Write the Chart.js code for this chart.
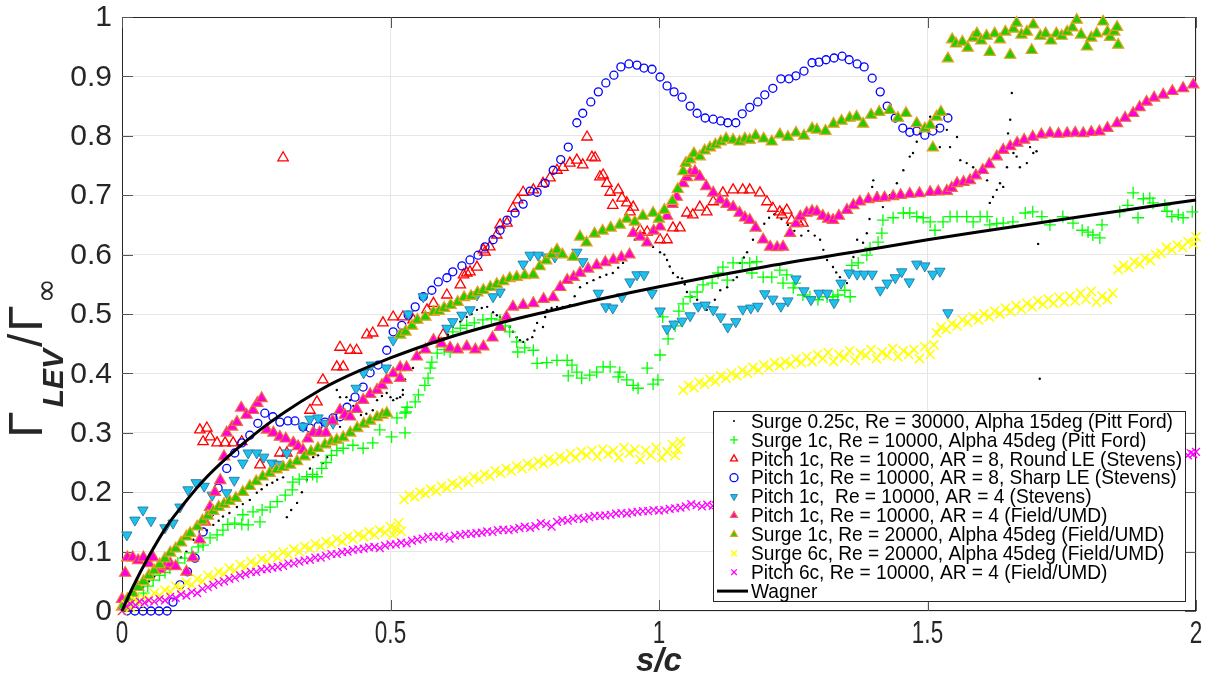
<!DOCTYPE html>
<html>
<head>
<meta charset="utf-8">
<script src="https://cdn.jsdelivr.net/npm/chart.js@4.4.1/dist/chart.umd.min.js"></script>
<style>
  html, body { margin: 0; padding: 0; background: #ffffff; }
  #wrap { width: 1206px; height: 685px; }
</style>
</head>
<body>
<div id="wrap"><canvas id="chart" width="1206" height="685"></canvas></div>
<script>
// Axis ticks
const xTickValues = [0, 0.5, 1, 1.5, 2];
const xTickLabels = ['0', '0.5', '1', '1.5', '2'];
const yTickValues = [0, 0.1, 0.2, 0.3, 0.4, 0.5, 0.6, 0.7, 0.8, 0.9, 1];
const yTickLabels = ['0', '0.1', '0.2', '0.3', '0.4', '0.5', '0.6', '0.7', '0.8', '0.9', '1'];

const seriesNames = [
  'Surge 0.25c, Re = 30000, Alpha 15deg (Pitt Ford)',
  'Surge 1c, Re = 10000, Alpha 45deg (Pitt Ford)',
  'Pitch 1c, Re = 10000, AR = 8, Round LE (Stevens)',
  'Pitch 1c, Re = 10000, AR = 8, Sharp LE (Stevens)',
  'Pitch 1c,  Re = 10000, AR = 4 (Stevens)',
  'Pitch 1c, Re = 10000, AR = 4 (Field/UMD)',
  'Surge 1c, Re = 20000, Alpha 45deg (Field/UMD)',
  'Surge 6c, Re = 20000, Alpha 45deg (Field/UMD)',
  'Pitch 6c, Re = 10000, AR = 4 (Field/UMD)',
  'Wagner'
];

// [s/c, Gamma_LEV / Gamma_inf]
const surge025PittFord = [
  [0.005,0.01],[0.015,0.02],[0.025,0.03],[0.039,0.04],[0.05,0.05],[0.06,0.058],[0.07,0.064],[0.08,0.07],[0.09,0.076],[0.1,0.08],
  [0.11,0.09],[0.12,0.1],[0.133,0.12],[0.145,0.128],[0.158,0.136],[0.17,0.145],[0.18,0.152],[0.188,0.159],[0.2,0.165],[0.214,0.175],
  [0.225,0.18],[0.238,0.187],[0.251,0.199],[0.26,0.205],[0.27,0.212],[0.28,0.216],[0.289,0.221],[0.3,0.225],[0.307,0.158],[0.315,0.17],
  [0.326,0.182],[0.335,0.2],[0.344,0.221],[0.35,0.24],[0.356,0.259],[0.365,0.262],[0.374,0.249],[0.382,0.259],[0.387,0.276],[0.393,0.283],
  [0.4,0.288],[0.406,0.31],[0.412,0.338],[0.406,0.36],[0.4,0.372],[0.418,0.36],[0.425,0.355],[0.431,0.345],[0.437,0.338],[0.445,0.33],
  [0.455,0.332],[0.467,0.338],[0.475,0.355],[0.484,0.362],[0.493,0.367],[0.5,0.36],[0.505,0.355],[0.512,0.358],[0.518,0.36],[0.523,0.372],
  [0.523,0.364],[0.527,0.39],[0.531,0.406],[0.537,0.408],[0.542,0.409],[0.55,0.425],[0.555,0.435],[0.561,0.445],[0.57,0.45],[0.58,0.456],
  [0.59,0.458],[0.598,0.456],[0.607,0.465],[0.616,0.478],[0.63,0.487],[0.642,0.495],[0.651,0.5],[0.661,0.507],[0.67,0.51],[0.68,0.512],
  [0.691,0.503],[0.698,0.498],[0.704,0.495],[0.712,0.488],[0.722,0.478],[0.728,0.47],[0.735,0.461],[0.741,0.456],[0.747,0.453],[0.755,0.457],
  [0.764,0.461],[0.768,0.472],[0.773,0.485],[0.784,0.478],[0.788,0.495],[0.791,0.507],[0.8,0.51],[0.81,0.512],[0.821,0.512],[0.834,0.515],
  [0.843,0.53],[0.853,0.545],[0.866,0.552],[0.878,0.557],[0.89,0.562],[0.902,0.566],[0.914,0.569],[0.924,0.578],[0.933,0.586],[0.94,0.597],
  [0.946,0.606],[0.955,0.625],[0.963,0.632],[0.97,0.636],[0.978,0.621],[0.989,0.613],[1.002,0.604],[1.01,0.6],[1.015,0.591],[1.02,0.58],
  [1.026,0.569],[1.035,0.562],[1.043,0.56],[1.048,0.55],[1.052,0.537],[1.061,0.529],[1.071,0.524],[1.082,0.518],[1.089,0.507],[1.095,0.512],
  [1.104,0.524],[1.114,0.54],[1.127,0.545],[1.138,0.557],[1.145,0.562],[1.151,0.586],[1.158,0.595],[1.164,0.604],[1.175,0.625],[1.188,0.641],
  [1.196,0.652],[1.205,0.662],[1.215,0.668],[1.228,0.66],[1.24,0.65],[1.252,0.64],[1.265,0.632],[1.278,0.64],[1.29,0.632],[1.3,0.625],
  [1.306,0.608],[1.313,0.591],[1.324,0.579],[1.33,0.57],[1.337,0.562],[1.35,0.552],[1.362,0.596],[1.369,0.625],[1.38,0.62],[1.387,0.636],
  [1.392,0.66],[1.397,0.714],[1.399,0.725],[1.406,0.704],[1.417,0.68],[1.43,0.7],[1.443,0.72],[1.449,0.704],[1.455,0.742],[1.467,0.765],
  [1.473,0.771],[1.48,0.79],[1.486,0.804],[1.499,0.815],[1.505,0.832],[1.517,0.815],[1.523,0.781],[1.536,0.81],[1.542,0.781],[1.555,0.798],
  [1.561,0.759],[1.573,0.754],[1.585,0.747],[1.598,0.737],[1.611,0.725],[1.616,0.687],[1.622,0.697],[1.629,0.709],[1.635,0.72],[1.641,0.714],
  [1.648,0.747],[1.65,0.804],[1.654,0.827],[1.657,0.872],[1.66,0.771],[1.666,0.765],[1.672,0.747],[1.685,0.754],[1.691,0.781],[1.697,0.771],
  [1.703,0.774],[1.706,0.618],[1.709,0.391]
];

const surge1PittFord = [
  [0.01,0.01],[0.02,0.02],[0.03,0.018],[0.04,0.03],[0.048,0.042],[0.058,0.052],[0.07,0.06],[0.08,0.065],[0.089,0.072],[0.104,0.081],
  [0.117,0.089],[0.13,0.098],[0.142,0.108],[0.151,0.111],[0.164,0.123],[0.177,0.128],[0.188,0.136],[0.197,0.146],[0.21,0.148],[0.223,0.146],
  [0.225,0.162],[0.235,0.145],[0.244,0.167],[0.257,0.15],[0.261,0.17],[0.276,0.175],[0.289,0.184],[0.304,0.195],[0.317,0.204],[0.318,0.217],
  [0.33,0.222],[0.344,0.226],[0.355,0.23],[0.363,0.226],[0.372,0.24],[0.38,0.25],[0.39,0.262],[0.4,0.27],[0.412,0.274],[0.43,0.279],
  [0.449,0.274],[0.467,0.283],[0.48,0.305],[0.502,0.293],[0.512,0.325],[0.527,0.333],[0.531,0.343],[0.527,0.3],[0.529,0.335],[0.546,0.352],
  [0.552,0.364],[0.564,0.38],[0.57,0.392],[0.574,0.409],[0.577,0.419],[0.587,0.434],[0.6,0.44],[0.611,0.436],[0.616,0.47],[0.63,0.476],
  [0.642,0.481],[0.656,0.485],[0.672,0.49],[0.688,0.492],[0.704,0.49],[0.714,0.48],[0.722,0.47],[0.735,0.453],[0.737,0.436],[0.75,0.443],
  [0.766,0.439],[0.773,0.417],[0.791,0.418],[0.81,0.422],[0.829,0.422],[0.838,0.414],[0.847,0.402],[0.831,0.396],[0.856,0.392],[0.871,0.397],
  [0.884,0.402],[0.896,0.411],[0.909,0.411],[0.924,0.394],[0.927,0.402],[0.94,0.389],[0.952,0.38],[0.961,0.375],[0.978,0.409],[0.989,0.382],
  [0.998,0.389],[1.002,0.431],[1.017,0.458],[1.007,0.495],[1.03,0.48],[1.037,0.505],[1.045,0.517],[1.058,0.529],[1.071,0.537],[1.082,0.549],
  [1.099,0.552],[1.11,0.569],[1.119,0.579],[1.127,0.557],[1.138,0.586],[1.155,0.586],[1.169,0.586],[1.173,0.569],[1.182,0.588],[1.194,0.562],
  [1.21,0.562],[1.225,0.574],[1.231,0.552],[1.238,0.566],[1.25,0.544],[1.253,0.552],[1.268,0.532],[1.281,0.529],[1.296,0.524],[1.313,0.529],
  [1.324,0.529],[1.333,0.532],[1.346,0.54],[1.356,0.529],[1.359,0.582],[1.371,0.586],[1.387,0.599],[1.393,0.611],[1.408,0.621],[1.415,0.636],
  [1.417,0.658],[1.436,0.662],[1.455,0.67],[1.467,0.67],[1.48,0.664],[1.492,0.662],[1.505,0.655],[1.514,0.641],[1.529,0.655],[1.542,0.664],
  [1.555,0.664],[1.573,0.664],[1.585,0.655],[1.598,0.664],[1.611,0.664],[1.616,0.65],[1.629,0.652],[1.641,0.653],[1.659,0.655],[1.682,0.67],
  [1.696,0.672],[1.713,0.664],[1.728,0.65],[1.752,0.664],[1.771,0.653],[1.788,0.641],[1.799,0.638],[1.808,0.633],[1.821,0.628],[1.825,0.65],
  [1.858,0.672],[1.873,0.683],[1.883,0.704],[1.892,0.662],[1.902,0.694],[1.914,0.695],[1.92,0.687],[1.942,0.683],[1.946,0.673],[1.955,0.664],
  [1.967,0.667],[1.976,0.662],[1.993,0.672]
];

const pitchAR8Round = [
  [0.145,0.305],[0.158,0.308],[0.151,0.285],[0.164,0.293],[0.177,0.283],[0.192,0.283],[0.207,0.283],[0.223,0.285],[0.257,0.246],[0.294,0.266],
  [0.307,0.266],[0.3,0.763],[0.35,0.338],[0.363,0.352],[0.374,0.389],[0.4,0.411],[0.412,0.411],[0.406,0.444],[0.425,0.439],[0.437,0.439],
  [0.456,0.465],[0.467,0.468],[0.486,0.485],[0.505,0.495],[0.523,0.495],[0.542,0.49],[0.568,0.507],[0.58,0.518],[0.598,0.465],[0.605,0.532],
  [0.63,0.549],[0.636,0.566],[0.642,0.569],[0.648,0.571],[0.661,0.579],[0.673,0.608],[0.676,0.604],[0.685,0.613],[0.698,0.633],[0.704,0.65],
  [0.717,0.653],[0.728,0.678],[0.737,0.692],[0.747,0.705],[0.766,0.709],[0.784,0.72],[0.797,0.729],[0.81,0.742],[0.821,0.747],[0.834,0.754],
  [0.847,0.759],[0.858,0.751],[0.866,0.798],[0.875,0.764],[0.881,0.763],[0.89,0.731],[0.896,0.734],[0.903,0.72],[0.909,0.705],[0.914,0.683],
  [0.924,0.709],[0.931,0.695],[0.94,0.687],[0.946,0.672],[0.952,0.68],[0.965,0.641],[0.978,0.638],[1.002,0.625],[1.015,0.625],[1.026,0.645],
  [1.039,0.645],[1.052,0.67],[1.063,0.667],[1.076,0.68],[1.089,0.672],[1.101,0.689],[1.119,0.704],[1.138,0.709],[1.156,0.709],[1.169,0.709],
  [1.188,0.704],[1.201,0.689],[1.212,0.678],[1.225,0.672],[1.229,0.667],[1.238,0.675],[1.247,0.658],[1.259,0.655],[1.268,0.653]
];

const pitchAR8Sharp = [
  [0.009,0],[0.024,0],[0.039,0],[0.054,0],[0.069,0],[0.084,0],[0.095,0.015],[0.108,0.044],[0.122,0.066],[0.136,0.089],
  [0.151,0.133],[0.164,0.165],[0.179,0.207],[0.195,0.24],[0.21,0.266],[0.223,0.283],[0.238,0.296],[0.253,0.316],[0.266,0.333],[0.281,0.327],
  [0.294,0.318],[0.309,0.32],[0.322,0.32],[0.337,0.31],[0.35,0.308],[0.365,0.311],[0.378,0.318],[0.393,0.325],[0.406,0.327],[0.419,0.343],
  [0.434,0.36],[0.449,0.377],[0.462,0.401],[0.477,0.414],[0.493,0.439],[0.505,0.47],[0.521,0.481],[0.533,0.498],[0.546,0.512],[0.561,0.529],
  [0.577,0.54],[0.589,0.554],[0.605,0.561],[0.616,0.571],[0.633,0.581],[0.648,0.591],[0.663,0.599],[0.676,0.613],[0.691,0.625],[0.704,0.641],
  [0.717,0.658],[0.732,0.67],[0.747,0.685],[0.76,0.707],[0.773,0.705],[0.788,0.72],[0.803,0.742],[0.817,0.76],[0.831,0.781],[0.847,0.822],
  [0.858,0.838],[0.873,0.857],[0.887,0.874],[0.901,0.889],[0.916,0.902],[0.929,0.916],[0.944,0.921],[0.959,0.919],[0.972,0.914],[0.987,0.912],
  [1.002,0.899],[1.015,0.884],[1.028,0.874],[1.043,0.865],[1.058,0.85],[1.071,0.838],[1.086,0.83],[1.101,0.828],[1.115,0.825],[1.128,0.822],
  [1.143,0.822],[1.155,0.837],[1.169,0.848],[1.184,0.857],[1.197,0.869],[1.212,0.88],[1.227,0.896],[1.242,0.896],[1.255,0.901],[1.27,0.909],
  [1.285,0.923],[1.298,0.924],[1.311,0.928],[1.326,0.931],[1.341,0.934],[1.354,0.928],[1.369,0.921],[1.382,0.916],[1.397,0.897],[1.412,0.874],
  [1.425,0.85],[1.44,0.83],[1.454,0.813],[1.467,0.806],[1.48,0.808],[1.495,0.801],[1.51,0.808],[1.523,0.813],[1.538,0.83]
];

const pitchAR4Stevens = [
  [0.009,0.128],[0.024,0.153],[0.039,0.17],[0.054,0.152],[0.08,0.14],[0.095,0.148],[0.108,0.175],[0.123,0.204],[0.138,0.216],[0.153,0.21],
  [0.168,0.195],[0.195,0.199],[0.209,0.22],[0.225,0.249],[0.235,0.266],[0.251,0.266],[0.264,0.259],[0.279,0.249],[0.292,0.247],[0.307,0.266],
  [0.337,0.311],[0.35,0.323],[0.365,0.325],[0.38,0.316],[0.393,0.316],[0.436,0.375],[0.45,0.401],[0.464,0.414],[0.492,0.409],[0.505,0.456],
  [0.533,0.5],[0.561,0.529],[0.605,0.476],[0.616,0.487],[0.633,0.498],[0.648,0.507],[0.661,0.532],[0.691,0.529],[0.704,0.537],[0.747,0.584],
  [0.76,0.599],[0.775,0.599],[0.791,0.596],[0.806,0.596],[0.847,0.604],[0.858,0.588],[0.887,0.535],[0.901,0.512],[0.914,0.51],[0.931,0.529],
  [0.946,0.554],[0.959,0.566],[0.972,0.566],[0.987,0.535],[1.002,0.505],[1.015,0.475],[1.028,0.483],[1.043,0.488],[1.058,0.497],[1.073,0.513],
  [1.086,0.515],[1.101,0.507],[1.115,0.495],[1.128,0.478],[1.143,0.487],[1.156,0.508],[1.171,0.51],[1.184,0.513],[1.197,0.534],[1.212,0.525],
  [1.227,0.513],[1.24,0.522],[1.255,0.559],[1.27,0.539],[1.283,0.524],[1.298,0.535],[1.313,0.535],[1.326,0.519],[1.339,0.552],[1.354,0.569],
  [1.369,0.567],[1.382,0.567],[1.397,0.567],[1.412,0.54],[1.425,0.552],[1.44,0.561],[1.452,0.571],[1.466,0.554],[1.48,0.584],[1.495,0.581],
  [1.51,0.567],[1.523,0.572],[1.538,0.502]
];

const pitchAR4Field = [
  [0,0.02],[0.006,0.064],[0.01,0.09],[0.02,0.09],[0.03,0.085],[0.04,0.09],[0.05,0.08],[0.058,0.09],[0.07,0.07],[0.08,0.075],
  [0.09,0.08],[0.1,0.075],[0.12,0.066],[0.132,0.09],[0.145,0.12],[0.155,0.15],[0.164,0.175],[0.173,0.2],[0.183,0.22],[0.19,0.26],
  [0.195,0.3],[0.205,0.31],[0.214,0.318],[0.222,0.342],[0.232,0.33],[0.244,0.338],[0.252,0.35],[0.26,0.358],[0.27,0.305],[0.282,0.3],
  [0.294,0.293],[0.305,0.29],[0.319,0.283],[0.328,0.277],[0.337,0.271],[0.346,0.29],[0.356,0.3],[0.368,0.3],[0.38,0.3],[0.392,0.32],
  [0.406,0.338],[0.415,0.33],[0.425,0.327],[0.437,0.34],[0.449,0.355],[0.462,0.365],[0.475,0.372],[0.484,0.38],[0.493,0.389],[0.505,0.4],
  [0.518,0.41],[0.518,0.392],[0.53,0.41],[0.549,0.428],[0.565,0.44],[0.58,0.456],[0.595,0.45],[0.611,0.443],[0.625,0.44],[0.642,0.445],
  [0.658,0.44],[0.673,0.445],[0.69,0.46],[0.704,0.478],[0.716,0.495],[0.728,0.512],[0.747,0.515],[0.766,0.518],[0.785,0.525],[0.803,0.528],
  [0.816,0.545],[0.829,0.557],[0.841,0.562],[0.853,0.569],[0.868,0.576],[0.884,0.582],[0.9,0.587],[0.915,0.591],[0.93,0.595],[0.945,0.6],
  [0.952,0.636],[0.965,0.63],[0.978,0.62],[0.99,0.64],[1.002,0.647],[1.015,0.665],[1.025,0.685],[1.033,0.697],[1.045,0.72],[1.052,0.73],
  [1.058,0.737],[1.067,0.74],[1.076,0.731],[1.088,0.715],[1.101,0.704],[1.114,0.692],[1.126,0.685],[1.138,0.68],[1.15,0.67],[1.16,0.662],
  [1.169,0.658],[1.18,0.645],[1.194,0.625],[1.207,0.613],[1.22,0.612],[1.231,0.613],[1.244,0.636],[1.255,0.652],[1.263,0.664],[1.275,0.67],
  [1.285,0.673],[1.294,0.672],[1.305,0.665],[1.315,0.66],[1.324,0.658],[1.335,0.665],[1.35,0.675],[1.362,0.683],[1.374,0.689],[1.39,0.693],
  [1.406,0.695],[1.42,0.696],[1.436,0.698],[1.45,0.7],[1.467,0.702],[1.485,0.703],[1.505,0.705],[1.52,0.706],[1.536,0.707],[1.545,0.712],
  [1.555,0.72],[1.567,0.722],[1.579,0.725],[1.59,0.733],[1.603,0.742],[1.615,0.752],[1.629,0.765],[1.641,0.776],[1.654,0.782],[1.667,0.788],
  [1.68,0.793],[1.696,0.798],[1.712,0.802],[1.728,0.804],[1.744,0.803],[1.76,0.804],[1.775,0.805],[1.79,0.804],[1.805,0.806],[1.82,0.807],
  [1.835,0.813],[1.853,0.821],[1.868,0.83],[1.883,0.838],[1.895,0.848],[1.908,0.857],[1.922,0.864],[1.939,0.869],[1.956,0.875],[1.976,0.88],
  [1.995,0.886]
];

const surge1Field = [
  [0,0.007],[0.01,0.02],[0.02,0.03],[0.03,0.04],[0.04,0.05],[0.05,0.06],[0.06,0.068],[0.07,0.078],[0.08,0.088],[0.09,0.098],
  [0.1,0.105],[0.11,0.115],[0.12,0.125],[0.127,0.131],[0.14,0.142],[0.15,0.152],[0.16,0.16],[0.17,0.168],[0.18,0.175],[0.19,0.18],
  [0.2,0.185],[0.212,0.19],[0.225,0.2],[0.238,0.21],[0.25,0.218],[0.262,0.226],[0.275,0.232],[0.288,0.238],[0.3,0.242],[0.313,0.246],
  [0.326,0.252],[0.34,0.26],[0.352,0.268],[0.365,0.274],[0.378,0.28],[0.39,0.285],[0.4,0.288],[0.412,0.292],[0.425,0.3],[0.438,0.308],
  [0.45,0.315],[0.462,0.32],[0.475,0.326],[0.485,0.33],[0.493,0.333],[0.518,0.465],[0.528,0.47],[0.54,0.48],[0.55,0.49],[0.565,0.495],
  [0.58,0.503],[0.59,0.505],[0.6,0.51],[0.612,0.515],[0.625,0.52],[0.637,0.528],[0.65,0.53],[0.662,0.536],[0.673,0.54],[0.686,0.545],
  [0.698,0.55],[0.71,0.555],[0.722,0.56],[0.735,0.562],[0.75,0.565],[0.766,0.566],[0.778,0.58],[0.79,0.59],[0.8,0.6],[0.81,0.608],
  [0.82,0.6],[0.84,0.596],[0.853,0.63],[0.865,0.62],[0.88,0.635],[0.895,0.64],[0.91,0.645],[0.927,0.65],[0.94,0.66],[0.955,0.655],
  [0.97,0.665],[0.989,0.67],[1.0,0.66],[1.01,0.675],[1.025,0.69],[1.035,0.71],[1.045,0.74],[1.05,0.754],[1.058,0.76],[1.065,0.77],
  [1.076,0.765],[1.085,0.775],[1.095,0.78],[1.105,0.785],[1.115,0.79],[1.125,0.795],[1.138,0.793],[1.15,0.79],[1.16,0.795],[1.169,0.793],
  [1.18,0.8],[1.195,0.795],[1.21,0.79],[1.225,0.802],[1.24,0.798],[1.255,0.805],[1.27,0.8],[1.285,0.812],[1.294,0.81],[1.31,0.808],
  [1.325,0.82],[1.34,0.825],[1.355,0.83],[1.368,0.832],[1.38,0.82],[1.395,0.835],[1.41,0.84],[1.43,0.843],[1.445,0.83],[1.46,0.838],
  [1.48,0.821],[1.495,0.812],[1.505,0.818],[1.517,0.832],[1.525,0.84],[1.51,0.78],
  [1.538,0.93],[1.546,0.962],[1.553,0.955],[1.565,0.958],[1.575,0.948],[1.585,0.965],[1.592,0.972],[1.6,0.96],[1.61,0.968],[1.616,0.941],
  [1.625,0.972],[1.635,0.962],[1.645,0.975],[1.654,0.936],[1.66,0.98],[1.666,0.99],[1.675,0.97],[1.685,0.975],[1.694,0.944],[1.697,0.987],
  [1.71,0.968],[1.72,0.972],[1.73,0.96],[1.74,0.972],[1.75,0.968],[1.76,0.975],[1.77,0.982],[1.778,0.995],[1.786,0.97],[1.797,0.95],
  [1.805,0.965],[1.815,0.972],[1.827,0.992],[1.835,0.975],[1.84,0.966],[1.848,0.975],[1.853,0.983],[1.855,0.953]
];

const surge6Field = [
  [0,0],[0.008,0.01],[0.016,0.006],[0.024,0.018],[0.032,0.014],[0.04,0.022],[0.05,0.02],[0.06,0.03],[0.07,0.026],[0.08,0.035],
  [0.09,0.032],[0.1,0.042],[0.11,0.038],[0.12,0.048],[0.13,0.044],[0.14,0.054],[0.15,0.05],[0.16,0.06],[0.17,0.056],[0.18,0.066],
  [0.19,0.062],[0.2,0.072],[0.21,0.068],[0.22,0.078],[0.23,0.074],[0.24,0.083],[0.25,0.079],[0.26,0.088],[0.27,0.084],[0.28,0.094],
  [0.29,0.09],[0.3,0.099],[0.31,0.095],[0.32,0.104],[0.33,0.1],[0.34,0.109],[0.35,0.105],[0.36,0.113],[0.37,0.109],[0.38,0.117],
  [0.39,0.113],[0.4,0.121],[0.41,0.117],[0.42,0.125],[0.43,0.121],[0.44,0.129],[0.45,0.125],[0.46,0.133],[0.47,0.128],[0.48,0.136],
  [0.49,0.132],[0.5,0.142],[0.505,0.128],[0.51,0.138],[0.515,0.148],[0.52,0.134],
  [0.525,0.188],[0.535,0.195],[0.545,0.192],[0.555,0.2],[0.565,0.197],[0.575,0.205],[0.585,0.202],[0.595,0.21],[0.605,0.207],[0.615,0.215],
  [0.625,0.212],[0.635,0.22],[0.645,0.217],[0.655,0.226],[0.665,0.222],[0.675,0.23],[0.685,0.227],[0.695,0.236],[0.705,0.232],[0.715,0.24],
  [0.725,0.236],[0.735,0.244],[0.745,0.24],[0.755,0.248],[0.765,0.244],[0.775,0.252],[0.785,0.248],[0.795,0.256],[0.805,0.252],[0.815,0.26],
  [0.825,0.256],[0.835,0.265],[0.845,0.258],[0.855,0.268],[0.865,0.262],[0.875,0.27],[0.885,0.26],[0.895,0.272],[0.905,0.264],[0.915,0.27],
  [0.925,0.258],[0.935,0.275],[0.945,0.266],[0.955,0.272],[0.965,0.255],[0.975,0.27],[0.985,0.262],[0.995,0.275],[1.005,0.258],[1.015,0.268],
  [1.025,0.28],[1.03,0.262],[1.035,0.272],[1.04,0.285],
  [1.045,0.372],[1.055,0.38],[1.065,0.376],[1.075,0.385],[1.085,0.382],[1.095,0.39],[1.105,0.386],[1.115,0.396],[1.125,0.392],[1.135,0.4],
  [1.145,0.396],[1.155,0.405],[1.165,0.4],[1.175,0.41],[1.185,0.405],[1.195,0.414],[1.205,0.41],[1.215,0.418],[1.225,0.413],[1.235,0.42],
  [1.245,0.415],[1.255,0.424],[1.265,0.418],[1.275,0.428],[1.285,0.42],[1.295,0.432],[1.305,0.425],[1.315,0.435],[1.325,0.42],[1.335,0.432],
  [1.345,0.426],[1.355,0.438],[1.365,0.422],[1.375,0.434],[1.385,0.43],[1.395,0.44],[1.405,0.425],[1.415,0.436],[1.425,0.43],[1.435,0.442],
  [1.445,0.428],[1.455,0.438],[1.465,0.432],[1.475,0.44],[1.485,0.425],[1.495,0.445],[1.505,0.432],[1.512,0.448],
  [1.517,0.468],[1.525,0.478],[1.535,0.474],[1.545,0.484],[1.555,0.48],[1.565,0.49],[1.575,0.486],[1.585,0.495],[1.595,0.49],[1.605,0.5],
  [1.615,0.495],[1.625,0.505],[1.635,0.5],[1.645,0.51],[1.655,0.504],[1.665,0.514],[1.675,0.508],[1.685,0.518],[1.695,0.512],[1.705,0.522],
  [1.715,0.516],[1.725,0.525],[1.735,0.518],[1.745,0.528],[1.755,0.52],[1.765,0.53],[1.775,0.522],[1.785,0.535],[1.795,0.525],[1.805,0.538],
  [1.815,0.52],[1.825,0.53],[1.835,0.524],[1.845,0.535],
  [1.855,0.575],[1.865,0.582],[1.875,0.578],[1.885,0.588],[1.895,0.584],[1.905,0.594],[1.915,0.59],[1.925,0.6],[1.935,0.602],[1.945,0.612],
  [1.955,0.608],[1.965,0.616],[1.975,0.612],[1.985,0.622],[1.995,0.618],[2.0,0.63]
];

const pitch6Field = [
  [0,0],[0.008,0.008],[0.016,0.012],[0.025,0.01],[0.033,0.016],[0.042,0.014],[0.05,0.018],[0.06,0.016],[0.07,0.02],[0.08,0.018],
  [0.09,0.024],[0.1,0.022],[0.11,0.028],[0.12,0.026],[0.13,0.032],[0.14,0.03],[0.15,0.037],[0.16,0.04],[0.17,0.044],[0.18,0.048],
  [0.19,0.05],[0.2,0.054],[0.21,0.056],[0.22,0.06],[0.23,0.062],[0.24,0.066],[0.25,0.066],[0.26,0.07],[0.27,0.071],[0.28,0.073],
  [0.29,0.074],[0.3,0.076],[0.31,0.08],[0.32,0.08],[0.33,0.083],[0.34,0.085],[0.35,0.086],[0.36,0.09],[0.37,0.09],[0.38,0.093],
  [0.39,0.096],[0.4,0.096],[0.41,0.099],[0.42,0.1],[0.43,0.103],[0.44,0.104],[0.45,0.105],[0.46,0.107],[0.47,0.108],[0.48,0.106],
  [0.49,0.11],[0.5,0.112],[0.51,0.112],[0.52,0.115],[0.53,0.114],[0.54,0.118],[0.55,0.12],[0.56,0.122],[0.57,0.125],[0.58,0.125],
  [0.59,0.126],[0.6,0.125],[0.61,0.122],[0.62,0.127],[0.63,0.128],[0.64,0.13],[0.65,0.13],[0.66,0.131],[0.67,0.132],[0.68,0.134],
  [0.69,0.133],[0.7,0.136],[0.71,0.137],[0.72,0.136],[0.73,0.138],[0.74,0.14],[0.75,0.142],[0.76,0.14],[0.77,0.143],[0.78,0.148],
  [0.79,0.146],[0.8,0.142],[0.81,0.15],[0.82,0.153],[0.83,0.152],[0.84,0.155],[0.85,0.157],[0.86,0.155],[0.87,0.158],[0.88,0.16],
  [0.89,0.16],[0.9,0.161],[0.91,0.162],[0.92,0.164],[0.93,0.165],[0.94,0.164],[0.95,0.166],[0.96,0.167],[0.97,0.168],[0.98,0.168],
  [0.99,0.17],[1.0,0.169],[1.01,0.17],[1.02,0.172],[1.03,0.173],[1.04,0.174],[1.05,0.176],[1.06,0.18],[1.07,0.178],[1.08,0.176],
  [1.09,0.179],[1.1,0.177],[1.106,0.178],[1.985,0.262],[1.99,0.266],[1.995,0.264],[2.0,0.268]
];

const wagner = [
  [0,0],[0.02,0.04],[0.05,0.092],[0.083,0.142],[0.1,0.163],[0.15,0.218],[0.2,0.262],[0.257,0.305],[0.3,0.333],[0.369,0.372],
  [0.4,0.387],[0.5,0.426],[0.6,0.458],[0.7,0.484],[0.8,0.506],[0.9,0.527],[1.0,0.546],[1.2,0.58],[1.4,0.61],[1.5,0.625],
  [1.6,0.639],[1.8,0.666],[2.0,0.692]
];

const toXY = arr => arr.map(p => ({ x: p[0], y: p[1] }));

const styles = [
  { pointStyle: 'circle',   radius: 1.2, bg: '#000000', border: '#000000', bw: 0 },
  { pointStyle: 'cross',    radius: 6,   bg: '#00ff00', border: '#00ff00', bw: 1.3 },
  { pointStyle: 'triangle', radius: 6,   bg: 'rgba(0,0,0,0)', border: '#ff0000', bw: 1.3 },
  { pointStyle: 'circle',   radius: 4,   bg: 'rgba(0,0,0,0)', border: '#0000ff', bw: 1.3 },
  { pointStyle: 'triangle', radius: 6,   bg: '#19c3ee', border: '#2f7fa8', bw: 1, rotation: 180 },
  { pointStyle: 'triangle', radius: 6.5, bg: '#ff00dd', border: '#ef6a3a', bw: 1.2 },
  { pointStyle: 'triangle', radius: 6.5, bg: '#22cc00', border: '#e8a020', bw: 1.2 },
  { pointStyle: 'crossRot', radius: 6.5, bg: '#ffff00', border: '#ffff00', bw: 1.5 },
  { pointStyle: 'crossRot', radius: 5.5, bg: '#ff00ff', border: '#ff00ff', bw: 1.3 }
];

const seriesData = [surge025PittFord, surge1PittFord, pitchAR8Round, pitchAR8Sharp, pitchAR4Stevens,
                    pitchAR4Field, surge1Field, surge6Field, pitch6Field];

const datasets = seriesData.map((arr, i) => ({
  label: seriesNames[i],
  data: toXY(arr),
  showLine: false,
  pointStyle: styles[i].pointStyle,
  pointRadius: styles[i].radius,
  pointRotation: styles[i].rotation || 0,
  pointBackgroundColor: styles[i].bg,
  pointBorderColor: styles[i].border,
  pointBorderWidth: styles[i].bw,
  pointHoverRadius: styles[i].radius,
  clip: false,
  order: 20 - i
}));

datasets.push({
  label: seriesNames[9],
  data: toXY(wagner),
  showLine: true,
  borderColor: '#000000',
  borderWidth: 3,
  pointRadius: 0,
  cubicInterpolationMode: 'monotone',
  fill: false,
  clip: false,
  order: 1
});

const TEXT = '#262626';

const decorations = {
  id: 'decorations',
  beforeDatasetsDraw(chart) {
    const { ctx, chartArea: a, scales: { x, y } } = chart;
    ctx.save();
    ctx.strokeStyle = TEXT;
    ctx.lineWidth = 1;
    ctx.strokeRect(a.left + 0.5, a.top + 0.5, a.right - a.left - 1, a.bottom - a.top - 1);
    const tl = 11;
    ctx.strokeStyle = '#555555';
    ctx.beginPath();
    xTickValues.forEach(v => {
      const px = Math.round(x.getPixelForValue(v)) + 0.5;
      ctx.moveTo(px, a.bottom); ctx.lineTo(px, a.bottom - tl);
      ctx.moveTo(px, a.top); ctx.lineTo(px, a.top + tl);
    });
    yTickValues.forEach(v => {
      const py = Math.round(y.getPixelForValue(v)) + 0.5;
      ctx.moveTo(a.left, py); ctx.lineTo(a.left + tl, py);
      ctx.moveTo(a.right, py); ctx.lineTo(a.right - tl, py);
    });
    ctx.stroke();
    ctx.restore();
  },
  afterDraw(chart) {
    const { ctx, chartArea: a, scales: { x, y } } = chart;
    ctx.save();
    ctx.fillStyle = TEXT;

    // tick labels
    ctx.font = '30px "Liberation Sans", Arial, sans-serif';
    ctx.textBaseline = 'middle';
    ctx.textAlign = 'right';
    yTickValues.forEach((v, i) => {
      ctx.fillText(yTickLabels[i], a.left - 10, y.getPixelForValue(v) + 1);
    });
    ctx.textAlign = 'center';
    xTickValues.forEach((v, i) => {
      const px = x.getPixelForValue(v);
      ctx.save();
      ctx.translate(px, a.bottom + 23);
      ctx.scale(0.75, 1.05);
      ctx.fillText(xTickLabels[i], 0, 0);
      ctx.restore();
    });

    // x title
    ctx.font = 'italic bold 33px "Liberation Sans", Arial, sans-serif';
    ctx.textAlign = 'center';
    ctx.fillText('s/c', (a.left + a.right) / 2, 662);

    // y title: Γ_LEV / Γ_∞
    ctx.save();
    ctx.translate(42, 358);
    ctx.rotate(-Math.PI / 2);
    const big = '48px "Liberation Sans", Arial, sans-serif';
    const sub = 'italic bold 30px "Liberation Sans", Arial, sans-serif';
    const subInf = '30px "DejaVu Sans", sans-serif';
    const parts = [
      { t: 'Γ', f: big, dy: 0, gap: 4 },
      { t: 'LEV', f: sub, dy: 21, gap: 2 },
      { t: '/', f: big, dy: 0, gap: 2 },
      { t: 'Γ', f: big, dy: 0, gap: 2 },
      { t: '∞', f: subInf, dy: 14, gap: 0 }
    ];
    let total = 0;
    parts.forEach(p => { ctx.font = p.f; p.w = ctx.measureText(p.t).width; total += p.w + p.gap; });
    let cx = -total / 2;
    ctx.textAlign = 'left';
    ctx.textBaseline = 'alphabetic';
    parts.forEach(p => { ctx.font = p.f; ctx.fillText(p.t, cx, p.dy); cx += p.w + p.gap; });
    ctx.restore();

    // legend box
    const L = 713.5, T = 411.5, W = 472, H = 190;
    ctx.fillStyle = '#ffffff';
    ctx.fillRect(L, T, W, H);
    ctx.strokeStyle = TEXT;
    ctx.lineWidth = 1;
    ctx.strokeRect(L, T, W, H);

    ctx.font = '21px "Liberation Sans", Arial, sans-serif';
    const sx = 422 / ctx.measureText(seriesNames[0]).width;
    const rowH = 18.9;
    seriesNames.forEach((name, i) => {
      const yy = 421 + i * rowH;
      if (i < 9) {
        const s = styles[i];
        ctx.save();
        ctx.fillStyle = s.bg;
        ctx.strokeStyle = s.border;
        ctx.lineWidth = s.bw || 1;
        Chart.helpers.drawPoint(ctx, {
          pointStyle: s.pointStyle,
          radius: s.radius > 1.2 ? 4 : 1,
          rotation: s.rotation || 0,
          borderWidth: Math.min(s.bw, 1.2)
        }, 734, yy);
        ctx.restore();
      } else {
        ctx.save();
        ctx.strokeStyle = '#000000';
        ctx.lineWidth = 3;
        ctx.beginPath();
        ctx.moveTo(717, yy); ctx.lineTo(748, yy);
        ctx.stroke();
        ctx.restore();
      }
      ctx.save();
      ctx.fillStyle = '#000000';
      ctx.font = '21px "Liberation Sans", Arial, sans-serif';
      ctx.textAlign = 'left';
      ctx.textBaseline = 'middle';
      ctx.translate(751, yy);
      ctx.scale(sx, 1);
      ctx.fillText(name, 0, 1);
      ctx.restore();
    });
    ctx.restore();
  }
};

new Chart(document.getElementById('chart'), {
  type: 'scatter',
  data: { datasets },
  options: {
    responsive: false,
    animation: false,
    devicePixelRatio: 1,
    layout: { padding: { top: 17, right: 10, left: 0, bottom: 0 } },
    plugins: { legend: { display: false }, tooltip: { enabled: false } },
    scales: {
      x: {
        type: 'linear', min: 0, max: 2,
        ticks: { display: false, stepSize: 0.5 },
        grid: { color: '#e6e6e6', lineWidth: 1, drawTicks: false },
        border: { display: false },
        afterFit: s => { s.height = 74; }
      },
      y: {
        type: 'linear', min: 0, max: 1,
        ticks: { display: false, stepSize: 0.1 },
        grid: { color: '#e6e6e6', lineWidth: 1, drawTicks: false },
        border: { display: false },
        afterFit: s => { s.width = 122; }
      }
    }
  },
  plugins: [decorations]
});
</script>
</body>
</html>
